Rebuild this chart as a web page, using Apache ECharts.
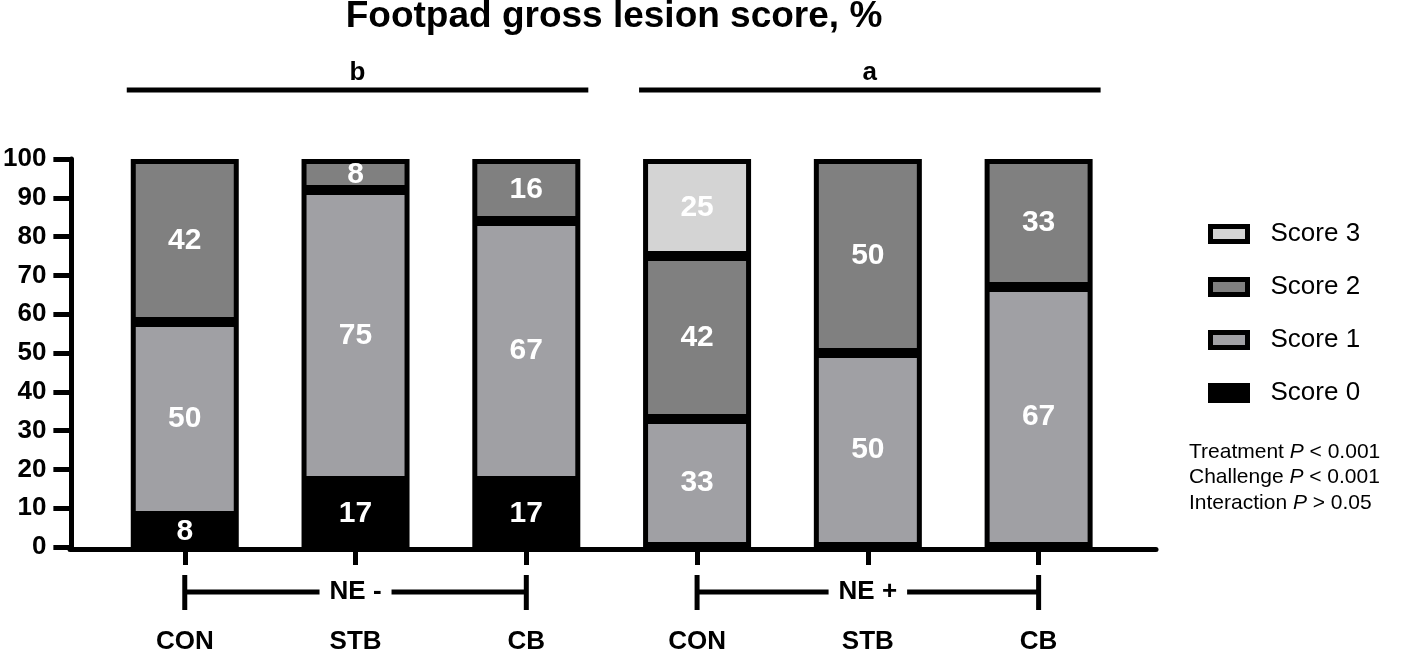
<!DOCTYPE html>
<html>
<head>
<meta charset="utf-8">
<script src="https://cdn.jsdelivr.net/npm/echarts@6/dist/echarts.min.js"></script>
<style>
  html, body { margin: 0; background: #fff; }
  #chart { width: 1417px; height: 655px; }
</style>
</head>
<body>
<div id="chart"></div>
<script>
// data
var categories = ['CON', 'STB', 'CB', 'CON', 'STB', 'CB'];
var score0 = [8, 17, 17, 0, 0, 0];
var score1 = [50, 75, 67, 33, 50, 67];
var score2 = [42, 8, 16, 42, 50, 33];
var score3 = [0, 0, 0, 25, 0, 0];
var meanLabels = ['1.33a', '0.92b', '1.00b', '1.92a', '1.50b', '1.33b'];
var groupNames = ['NE -', 'NE +'];
var groupLetters = ['b', 'a'];
var statLines = [
  ['Treatment ', ' < 0.001'],
  ['Challenge ', ' < 0.001'],
  ['Interaction ', ' > 0.05']
];

var FONT = '"Liberation Sans", Arial, sans-serif';

function barSeries(name, values, color) {
  return {
    name: name,
    type: 'bar',
    stack: 'score',
    barWidth: 108,
    data: values.map(function (v) { return v === 0 ? '-' : v; }),
    itemStyle: { color: color, borderColor: '#000', borderWidth: 5 },
    label: {
      show: true,
      position: 'inside',
      color: '#fff',
      fontFamily: FONT,
      fontSize: 30,
      fontWeight: 'bold'
    },
    emphasis: { disabled: true }
  };
}

var chart = echarts.init(document.getElementById('chart'));

var option = {
  animation: false,
  grid: [
    { left: 98, right: 293, top: 159, bottom: 106 },
    // wider grid only used for the long baseline
    { left: 70, right: 261, top: 159, bottom: 106 }
  ],
  legend: {
    data: ['Score 3', 'Score 2', 'Score 1', 'Score 0'],
    orient: 'vertical',
    left: 1203,
    top: 214,
    icon: 'rect',
    itemWidth: 37,
    itemHeight: 15,
    itemGap: 23,
    itemStyle: { borderColor: '#000', borderWidth: 5 },
    textStyle: { fontFamily: FONT, fontSize: 26, color: '#000', lineHeight: 30, padding: [0, 0, 0, 18] },
    selectedMode: false
  },
  xAxis: [
    {
      type: 'category',
      gridIndex: 0,
      data: categories,
      axisLine: { show: false },
      axisTick: { show: true, alignWithLabel: true, length: 18, lineStyle: { color: '#000', width: 5 } },
      axisLabel: { margin: 82, color: '#000', fontFamily: FONT, fontSize: 26, fontWeight: 'bold' }
    },
    {
      type: 'value',
      gridIndex: 1,
      min: 0,
      max: 1,
      splitLine: { show: false },
      axisTick: { show: false },
      axisLabel: { show: false },
      axisLine: { show: true, lineStyle: { color: '#000', width: 5 } }
    }
  ],
  yAxis: [
    {
      type: 'value',
      gridIndex: 0,
      min: 0,
      max: 100,
      interval: 10,
      offset: 28,
      splitLine: { show: false },
      axisLine: { show: true, lineStyle: { color: '#000', width: 5 } },
      axisTick: { show: true, length: 18, lineStyle: { color: '#000', width: 5 } },
      axisLabel: { margin: 25, color: '#000', fontFamily: FONT, fontSize: 26, fontWeight: 'bold' }
    },
    {
      type: 'value',
      gridIndex: 1,
      show: false,
      min: 0,
      max: 100
    }
  ],
  series: [
    barSeries('Score 0', score0, '#000000'),
    barSeries('Score 1', score1, '#a0a0a4'),
    barSeries('Score 2', score2, '#808080'),
    barSeries('Score 3', score3, '#d4d4d4'),
    {
      type: 'scatter',
      symbolSize: 1,
      itemStyle: { opacity: 0 },
      data: meanLabels.map(function () { return 100; }),
      label: {
        show: true,
        position: 'top',
        distance: 9,
        color: '#000',
        fontFamily: FONT,
        fontSize: 27,
        fontWeight: 'bold',
        formatter: function (p) { return meanLabels[p.dataIndex]; }
      },
      emphasis: { disabled: true },
      silent: true
    }
  ]
};

chart.setOption(option);

// annotations placed from the category axis
var cx = categories.map(function (c, i) { return chart.convertToPixel({ xAxisIndex: 0 }, i); });
var graphics = [];

graphics.push({
  type: 'text', x: 614, y: 17,
  style: { text: 'Footpad gross lesion score, %', font: 'bold 37px ' + FONT, fill: '#000', align: 'center', verticalAlign: 'middle' }
});

[0, 1].forEach(function (g) {
  var a = cx[g * 3], b = cx[g * 3 + 2], mid = cx[g * 3 + 1];
  // top significance bars
  graphics.push({ type: 'line', shape: { x1: a - 58, y1: 90, x2: b + 62, y2: 90 }, style: { stroke: '#000', lineWidth: 5 } });
  graphics.push({
    type: 'text', x: (a - 58 + b + 62) / 2, y: 73,
    style: { text: groupLetters[g], font: 'bold 26px ' + FONT, fill: '#000', align: 'center', verticalAlign: 'middle' }
  });
  // bottom brackets
  graphics.push({ type: 'line', shape: { x1: a, y1: 592, x2: b, y2: 592 }, style: { stroke: '#000', lineWidth: 5 } });
  graphics.push({ type: 'line', shape: { x1: a, y1: 575, x2: a, y2: 610 }, style: { stroke: '#000', lineWidth: 5 } });
  graphics.push({ type: 'line', shape: { x1: b, y1: 575, x2: b, y2: 610 }, style: { stroke: '#000', lineWidth: 5 } });
  graphics.push({
    type: 'text', x: mid, y: 592, z: 10,
    style: {
      text: groupNames[g], font: 'bold 26px ' + FONT, fill: '#000', align: 'center', verticalAlign: 'middle',
      backgroundColor: '#fff', padding: [2, 10]
    }
  });
});

statLines.forEach(function (s, i) {
  graphics.push({
    type: 'text', x: 1189, y: 452 + i * 25.5,
    style: {
      text: '{n|' + s[0] + '}{i|P}{n|' + s[1] + '}',
      verticalAlign: 'middle',
      rich: {
        n: { font: '21px ' + FONT, fill: '#000' },
        i: { font: 'italic 21px ' + FONT, fill: '#000' }
      }
    }
  });
});

chart.setOption({ graphic: graphics });
</script>
</body>
</html>
